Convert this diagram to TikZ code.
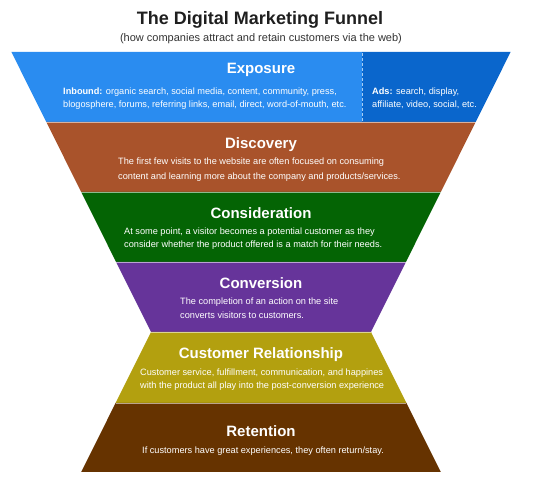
\documentclass[tikz,border=0pt]{standalone}
\usepackage{fontspec}
\setmainfont{Liberation Sans}
\definecolor{expL}{HTML}{2A8CF0}
\definecolor{expR}{HTML}{0A66CC}
\definecolor{dashc}{HTML}{A8CDF2}
\definecolor{disc}{HTML}{A9532B}
\definecolor{cons}{HTML}{046404}
\definecolor{conv}{HTML}{66349A}
\definecolor{crel}{HTML}{B3A00F}
\definecolor{ret}{HTML}{663300}
\begin{document}
\begin{tikzpicture}[x=1pt,y=-1pt,
  head/.style={anchor=base, text=white, font=\fontsize{15}{18}\selectfont\bfseries, inner sep=0pt},
  body/.style={anchor=base west, text=white, font=\fontsize{9.2}{11}\selectfont, inner sep=0pt},
  sepline/.style={draw=white, draw opacity=0.55, line width=0.9pt}]
\useasboundingbox[fill=white] (0,0) rectangle (550,484);
% sections
\fill[expL] (11.4,52) -- (362,52) -- (362,122) -- (46.3,122) -- cycle;
\fill[expR] (362,52) -- (510.6,52) -- (475.7,122) -- (362,122) -- cycle;
\fill[disc] (46.3,122) -- (475.7,122) -- (440.8,192) -- (81.2,192) -- cycle;
\fill[cons] (81.2,192) -- (440.8,192) -- (405.9,262) -- (116.1,262) -- cycle;
\fill[conv] (116.1,262) -- (405.9,262) -- (371,332) -- (151,332) -- cycle;
\fill[crel] (151,332) -- (371,332) -- (406.4,403) -- (115.6,403) -- cycle;
\fill[ret] (115.6,403) -- (406.4,403) -- (440.8,472) -- (81.2,472) -- cycle;
% separators
\draw[sepline] (46.3,122) -- (475.7,122);
\draw[sepline] (81.2,192) -- (440.8,192);
\draw[sepline] (116.1,262) -- (405.9,262);
\draw[sepline] (151,332) -- (371,332);
\draw[sepline] (115.6,403) -- (406.4,403);
\draw[dashc, line width=0.8pt, dash pattern=on 3pt off 2pt] (362,53) -- (362,121);
% title
\node[anchor=base, font=\fontsize{18}{22}\selectfont\bfseries, text=black!88, inner sep=0pt] (title) at (260,25) {The Digital Marketing Funnel};
\node[anchor=base, font=\fontsize{11}{13}\selectfont, text=black!80, inner sep=0pt] (sub) at (261,41.5) {(how companies attract and retain customers via the web)};
% Exposure
\node[head] (hexp) at (261,74) {Exposure};
\node[body] (exp1) at (63,94.5) {\textbf{Inbound:} organic search, social media, content, community, press,};
\node[body] (exp2) at (63,108) {blogosphere, forums, referring links, email, direct, word-of-mouth, etc.};
\node[body] (ads1) at (372,94.5) {\textbf{Ads:} search, display,};
\node[body] (ads2) at (372,108) {affiliate, video, social, etc.};
% Discovery
\node[head] (hdisc) at (261,148.5) {Discovery};
\node[body] (disc1) at (118,165) {The first few visits to the website are often focused on consuming};
\node[body] (disc2) at (118,179.3) {content and learning more about the company and products/services.};
% Consideration
\node[head] (hcons) at (261,218.5) {Consideration};
\node[body] (cons1) at (124,235) {At some point, a visitor becomes a potential customer as they};
\node[body] (cons2) at (124,248) {consider whether the product offered is a match for their needs.};
% Conversion
\node[head] (hconv) at (261,289) {Conversion};
\node[body] (conv1) at (180,305) {The completion of an action on the site};
\node[body] (conv2) at (180,319) {converts visitors to customers.};
% Customer Relationship
\node[head] (hcrel) at (261,359) {Customer Relationship};
\node[body] (crel1) at (140,375.7) {Customer service, fulfillment, communication, and happines};
\node[body] (crel2) at (140,388.5) {with the product all play into the post-conversion experience};
% Retention
\node[head] (hret) at (261,436.5) {Retention};
\node[body] (ret1) at (142,453.5) {If customers have great experiences, they often return/stay.};
\end{tikzpicture}
\end{document}
